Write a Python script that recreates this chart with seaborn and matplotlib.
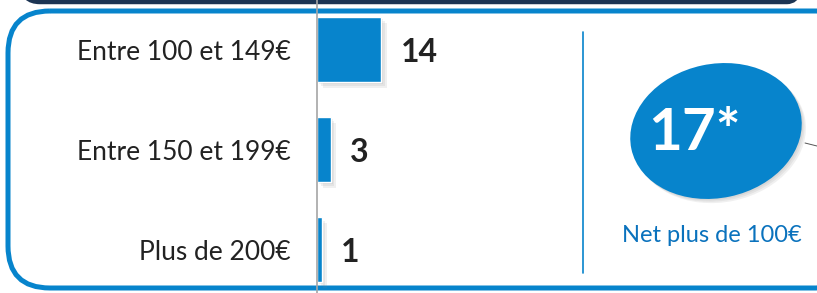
import matplotlib
matplotlib.use("Agg")
import matplotlib.pyplot as plt
import matplotlib.patheffects as pe
from matplotlib.patches import FancyBboxPatch, Ellipse
import seaborn as sns
import pandas as pd

# data
categories = ["Entre 100 et 149€", "Entre 150 et 199€", "Plus de 200€"]
counts = [14, 3, 1]
total_label = "17*"
total_caption = "Net plus de 100€"

blue = "#0784cc"
navy = "#1c3554"
W, H = 817, 293

sns.set_theme(style="white")
plt.rcParams["font.family"] = ["Lato", "DejaVu Sans"]

fig = plt.figure(figsize=(W / 100, H / 100), dpi=100)

# background decorations in pixel coordinates
bg = fig.add_axes([0, 0, 1, 1], zorder=0)
bg.set_xlim(0, W)
bg.set_ylim(H, 0)
bg.axis("off")

bg.add_patch(FancyBboxPatch((22, -60), 783, 62, boxstyle="round,pad=0,rounding_size=18",
                            fc="none", ec=navy, lw=3.2, clip_on=False))
bg.add_patch(FancyBboxPatch((8, 11), 850, 277, boxstyle="round,pad=0,rounding_size=42",
                            fc="none", ec=blue, lw=3.6, clip_on=False))
bg.plot([583, 583], [32, 273], color=blue, lw=1.2)
bg.plot([805, 817], [143, 146], color="#555555", lw=0.7)


def soft_shadow(dx, dy):
    return [pe.SimplePatchShadow(offset=(dx * k / 3, -dy * k / 3), shadow_rgbFace="#888888",
                                 alpha=0.12) for k in (1, 2, 3)] + [pe.Normal()]


ell = Ellipse((716, 131), 173, 134, angle=-12, fc=blue, ec="none",
              path_effects=soft_shadow(3, 3))
bg.add_patch(ell)
bg.text(694, 133, total_label, color="white", fontsize=42, fontweight="bold",
        ha="center", va="center")
bg.text(712, 235, total_caption, color="#0a72bd", fontsize=17,
        ha="center", va="center")

# bar chart
x0 = 317
px_per_unit = 4.57
ax = fig.add_axes([x0 / W, 0, 1 - x0 / W, 1], zorder=1)
ax.patch.set_alpha(0)
df = pd.DataFrame({"cat": categories, "n": counts})
sns.barplot(data=df, x="n", y="cat", orient="h", color=blue, width=0.65,
            saturation=1, ax=ax)
for bar in ax.patches:
    bar.set_path_effects(soft_shadow(4, 4))
ax.set_xlim(0, (W - x0) / px_per_unit)
ax.set_ylim(2.435, -0.495)
ax.set_xlabel("")
ax.set_ylabel("")
ax.set_xticks([])
for s in ["top", "right", "bottom"]:
    ax.spines[s].set_visible(False)
ax.spines["left"].set_color("#a6a6a6")
ax.spines["left"].set_linewidth(1.2)
ax.tick_params(axis="y", length=0, pad=19, labelsize=19, labelcolor="#222222")
for lab in ax.get_yticklabels():
    lab.set_clip_on(False)

for bar, v in zip(ax.patches, counts):
    ax.annotate(str(v), (bar.get_width(), bar.get_y() + bar.get_height() / 2),
                xytext=(14, -2), textcoords="offset points", va="center", ha="left",
                fontsize=23, fontweight="bold", color="#222222")

fig.savefig("out.png", dpi=100)
